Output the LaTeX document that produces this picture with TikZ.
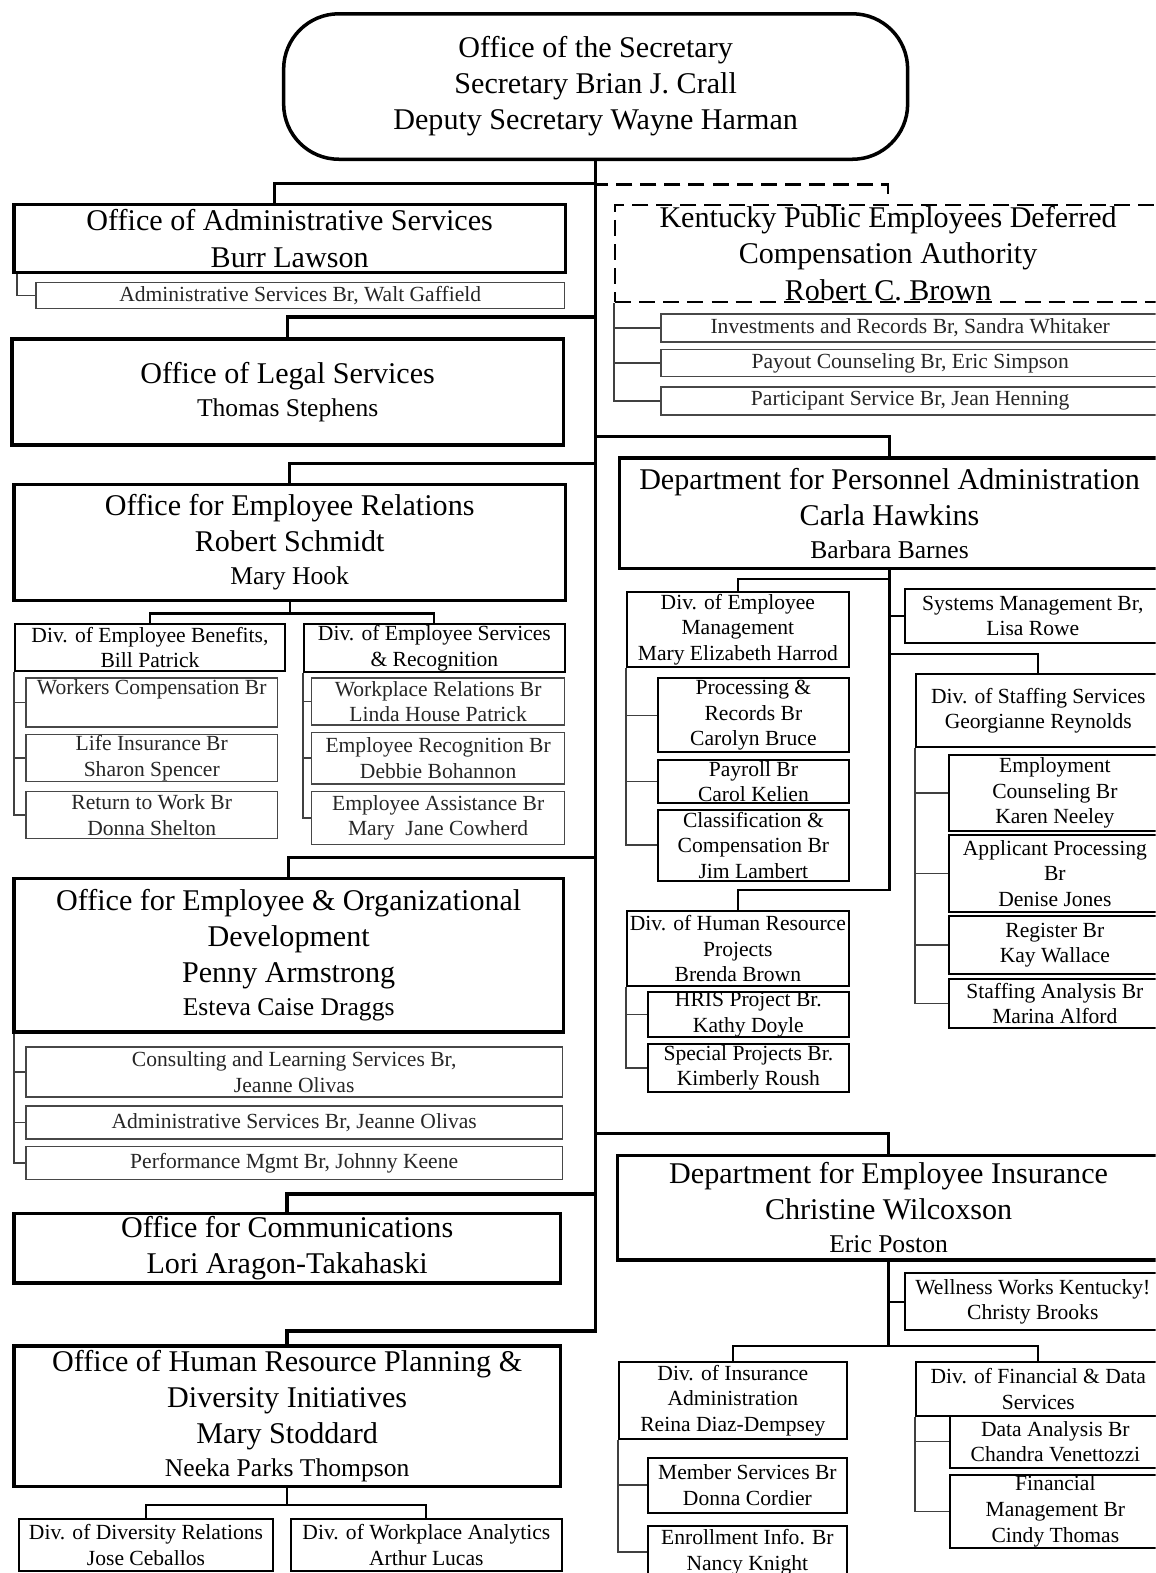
\documentclass[tikz,border=0pt]{standalone}
\usepackage{fontspec}
\setmainfont{Liberation Serif}
\usepackage{tikz}
\usetikzlibrary{positioning}
\newcommand{\headfont}{\fontsize{30}{36}\selectfont}
\newcommand{\namefont}{\fontsize{25.5}{30}\selectfont}
\newcommand{\divfont}{\fontsize{21.5}{25.5}\selectfont}

\begin{document}
\begin{tikzpicture}[x=1pt,y=-1pt,
  office/.style={rectangle,draw,line width=3.5pt,font=\headfont,align=center,inner sep=0pt,anchor=north west},
  div/.style={rectangle,draw,line width=2pt,font=\divfont,align=center,inner sep=0pt,anchor=north west},
  branch/.style={rectangle,draw=black!72,line width=1.5pt,font=\divfont,text=black!85,align=center,inner sep=0pt,anchor=north west},
  link/.style={line width=3.5pt},
  divlink/.style={line width=2.2pt},
  brlink/.style={draw=black!75,line width=1.5pt}]

  \useasboundingbox (0,0) rectangle (1152,1568);
  \clip (0,0) rectangle (1152,1568);

  % Spitze
  \node[office,rounded corners=55pt,minimum width=622pt,minimum height=145pt] (sec) at (281,12)
    {Office of the Secretary\\Secretary Brian J. Crall\\Deputy Secretary Wayne Harman};

  % linke Spalte
  \node[office,minimum width=550pt,minimum height=68pt] (oas) at (12,202) {Office of Administrative Services\\Burr Lawson};
  \node[branch,minimum width=527pt,minimum height=26pt] (oasbr) at (35,281) {Administrative Services Br, Walt Gaffield};

  \node[office,minimum width=550pt,minimum height=106pt] (ols) at (10,336) {Office of Legal Services\\[-3pt]\namefont Thomas Stephens};

  \node[office,minimum width=550pt,minimum height=116pt] (oer) at (12,481) {Office for Employee Relations\\Robert Schmidt\\[-3pt]\namefont Mary Hook};
  \node[div,minimum width=269pt,minimum height=47pt] (deb) at (14,621) {Div. of Employee Benefits,\\Bill Patrick};
  \node[div,minimum width=260pt,minimum height=48pt] (desr) [right=17pt of deb.north east,anchor=north west] {Div. of Employee Services\\\& Recognition};
  \node[branch,minimum width=251pt,minimum height=49pt] (wc) at (25,675) {Workers Compensation Br\\\phantom{Ag}};
  \node[branch,minimum width=251pt,minimum height=47pt] (li) [below=6pt of wc.south west,anchor=north west] {Life Insurance Br\\Sharon Spencer};
  \node[branch,minimum width=251pt,minimum height=47pt] (rw) [below=8pt of li.south west,anchor=north west] {Return to Work Br\\Donna Shelton};
  \node[branch,minimum width=252pt,minimum height=47pt] (wr) at (310,675) {Workplace Relations Br\\Linda House Patrick};
  \node[branch,minimum width=252pt,minimum height=51pt] (er) [below=6pt of wr.south west,anchor=north west] {Employee Recognition Br\\Debbie Bohannon};
  \node[branch,minimum width=252pt,minimum height=53pt] (ea) [below=6pt of er.south west,anchor=north west] {Employee Assistance Br\\Mary\ \ Jane Cowherd};

  \node[office,minimum width=548pt,minimum height=153pt] (oeod) at (12,874)
    {Office for Employee \& Organizational\\Development\\Penny Armstrong\\[-3pt]\namefont Esteva Caise Draggs};
  \node[branch,minimum width=535pt,minimum height=50pt] (cls) at (25,1043) {Consulting and Learning Services Br,\\Jeanne Olivas};
  \node[branch,minimum width=535pt,minimum height=33pt] (asb) [below=7pt of cls.south west,anchor=north west] {Administrative Services Br, Jeanne Olivas};
  \node[branch,minimum width=535pt,minimum height=33pt] (pm) [below=6pt of asb.south west,anchor=north west] {Performance Mgmt Br, Johnny Keene};

  \node[office,minimum width=545pt,minimum height=69pt] (ofc) at (12,1208) {Office for Communications\\Lori Aragon-Takahaski};

  \node[office,minimum width=545pt,minimum height=140pt] (ohrp) at (12,1340)
    {Office of Human Resource Planning \&\\Diversity Initiatives\\Mary Stoddard\\[-3pt]\namefont Neeka Parks Thompson};
  \node[div,minimum width=253pt,minimum height=52pt] (ddr) at (18,1513) {Div. of Diversity Relations\\Jose Ceballos};
  \node[div,minimum width=270pt,minimum height=52pt] (dwa) [right=16pt of ddr.north east,anchor=north west] {Div. of Workplace Analytics\\Arthur Lucas};

  % rechte Spalte
  \node[office,dash pattern=on 16pt off 8pt,line width=2.5pt,minimum width=544pt,minimum height=97pt] (kp) at (612,203)
    {Kentucky Public Employees Deferred\\Compensation Authority\\Robert C. Brown};
  \node[branch,minimum width=497pt,minimum height=28pt] (ir) at (658,312) {Investments and Records Br, Sandra Whitaker};
  \node[branch,minimum width=497pt,minimum height=27pt] (pc) [below=6pt of ir.south west,anchor=north west] {Payout Counseling Br, Eric Simpson};
  \node[branch,minimum width=497pt,minimum height=28pt] (ps) [below=9pt of pc.south west,anchor=north west] {Participant Service Br, Jean Henning};

  \node[office,minimum width=538pt,minimum height=110pt] (dpa) at (616,455)
    {Department for Personnel Administration\\Carla Hawkins\\[-3pt]\namefont Barbara Barnes};
  \node[div,minimum width=221pt,minimum height=75pt] (dem) at (624,589) {Div. of Employee\\Management\\Mary Elizabeth Harrod};
  \node[div,minimum width=190pt,minimum height=74pt] (pr) at (655,675) {Processing \&\\Records Br\\Carolyn Bruce};
  \node[div,minimum width=190pt,minimum height=42pt] (py) [below=6pt of pr.south west,anchor=north west] {Payroll Br\\Carol Kelien};
  \node[div,minimum width=190pt,minimum height=71pt] (cc) [below=5pt of py.south west,anchor=north west] {Classification \&\\Compensation Br\\Jim Lambert};
  \node[div,minimum width=221pt,minimum height=75pt] (dhrp) at (624,907) {Div. of Human Resource\\Projects\\Brenda Brown};
  \node[div,minimum width=200pt,minimum height=44pt] (hris) at (645,988) {HRIS Project Br.\\Kathy Doyle};
  \node[div,minimum width=200pt,minimum height=48pt] (sp) [below=5pt of hris.south west,anchor=north west] {Special Projects Br.\\Kimberly Roush};
  \node[div,minimum width=255pt,minimum height=54pt] (sm) at (901,586) {Systems Management Br,\\Lisa Rowe};
  \node[div,minimum width=244pt,minimum height=73pt] (dss) at (912,671) {Div. of Staffing Services\\Georgianne Reynolds};
  \node[div,minimum width=211pt,minimum height=75pt] (ec) at (945,752) {Employment\\Counseling Br\\Karen Neeley};
  \node[div,minimum width=211pt,minimum height=77pt] (ap) [below=2pt of ec.south west,anchor=north west] {Applicant Processing\\Br\\Denise Jones};
  \node[div,minimum width=211pt,minimum height=58pt] (rg) [below=2pt of ap.south west,anchor=north west] {Register Br\\Kay Wallace};
  \node[div,minimum width=211pt,minimum height=49pt] (sa) [below=3pt of rg.south west,anchor=north west] {Staffing Analysis Br\\Marina Alford};

  \node[office,minimum width=540pt,minimum height=104pt] (dei) at (614,1150)
    {Department for Employee Insurance\\Christine Wilcoxson\\[-3pt]\namefont Eric Poston};
  \node[div,minimum width=255pt,minimum height=57pt] (ww) at (901,1268) {Wellness Works Kentucky!\\Christy Brooks};
  \node[div,minimum width=227pt,minimum height=76pt] (dia) at (616,1357) {Div. of Insurance\\Administration\\Reina Diaz-Dempsey};
  \node[div,minimum width=198pt,minimum height=55pt] (ms) at (645,1452) {Member Services Br\\Donna Cordier};
  \node[div,minimum width=198pt,minimum height=52pt] (ei) [below=11pt of ms.south west,anchor=north west] {Enrollment Info. Br\\Nancy Knight};
  \node[div,minimum width=244pt,minimum height=53pt] (dfds) at (912,1357) {Div. of Financial \& Data\\Services};
  \node[div,minimum width=210pt,minimum height=52pt] (da) at (946,1410) {Data Analysis Br\\Chandra Venettozzi};
  \node[div,minimum width=210pt,minimum height=73pt] (fm) [below=5pt of da.south west,anchor=north west] {Financial\\Management Br\\Cindy Thomas};

  % Verbindungen
  \draw[dash pattern=on 16pt off 8pt,line width=2.5pt] ([yshift=10pt]kp.north) -- ++(0,-9) -| (sec.south);

  \draw[link] ([xshift=-15pt]oas.north) -- ++(0,-19) -| (sec.south);
  \draw[link] (ols.north)  -- ++(0,-20) -| (sec.south);
  \draw[link] (oer.north)  -- ++(0,-19) -| (sec.south);
  \draw[link] (oeod.north) -- ++(0,-19) -| (sec.south);
  \draw[link] (ofc.north)  -- ++(0,-18) -| (sec.south);
  \draw[link] (ohrp.north) -- ++(0,-13) -| (sec.south);
  \draw[link] (dpa.north)  -- ++(0,-20) -| (sec.south);
  \draw[link] (dei.north)  -- ++(0,-20) -| (sec.south);

  \draw[brlink] ([xshift=5pt]oas.south west) |- (oasbr.west);
  \draw[divlink] (oer.south) -- ++(0,11) -| (deb.north);
  \draw[divlink] (oer.south) -- ++(0,11) -| (desr.north);
  \draw[brlink] (deb.south west) |- (wc.west)
                (deb.south west) |- (li.west)
                (deb.south west) |- (rw.west);
  \draw[brlink] (desr.south west) |- (wr.west)
                (desr.south west) |- (er.west)
                (desr.south west) |- (ea.west);
  \draw[brlink] ([xshift=2pt]oeod.south west) |- (cls.west)
                ([xshift=2pt]oeod.south west) |- (asb.west)
                ([xshift=2pt]oeod.south west) |- (pm.west);
  \draw[divlink] (ohrp.south) -- ++(0,17) -| (ddr.north);
  \draw[divlink] (ohrp.south) -- ++(0,17) -| (dwa.north);

  \draw[brlink] (kp.south west) |- (ir.west)
                (kp.south west) |- (pc.west)
                (kp.south west) |- (ps.west);

  \draw[divlink] (dpa.south) |- ([yshift=12pt]dem.north) -- (dem.north);
  \draw[divlink] (dpa.south) |- (sm.west);
  \draw[divlink] (dpa.south) |- ([yshift=19pt]dss.north) -- (dss.north);
  \draw[divlink] (dpa.south) |- ([yshift=20pt]dhrp.north) -- (dhrp.north);
  \draw[brlink] (dem.south west) |- (pr.west)
                (dem.south west) |- (py.west)
                (dem.south west) |- (cc.west);
  \draw[brlink] (dhrp.south west) |- (hris.west)
                (dhrp.south west) |- (sp.west);
  \draw[brlink] (dss.south west) |- (ec.west)
                (dss.south west) |- (ap.west)
                (dss.south west) |- (rg.west)
                (dss.south west) |- (sa.west);

  \draw[divlink] (dei.south) |- (ww.west);
  \draw[divlink] (dei.south) -- ++(0,84) -| (dia.north);
  \draw[divlink] (dei.south) -- ++(0,84) -| (dfds.north);
  \draw[brlink] (dia.south west) |- (ms.west)
                (dia.south west) |- (ei.west);
  \draw[brlink] (dfds.south west) |- (da.west)
                (dfds.south west) |- (fm.west);

\end{tikzpicture}
\end{document}
